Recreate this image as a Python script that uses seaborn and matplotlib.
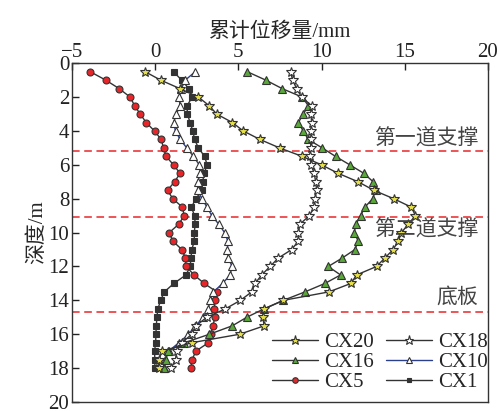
import matplotlib
matplotlib.use("Agg")
import matplotlib.pyplot as plt
import seaborn as sns
import pandas as pd
from matplotlib.lines import Line2D

depth = [0.5, 1.0, 1.5, 2.0, 2.5, 3.0, 3.5, 4.0, 4.5, 5.0, 5.5, 6.0,
         6.5, 7.0, 7.5, 8.0, 8.5, 9.0, 9.5, 10.0, 10.5, 11.0, 11.5, 12.0,
         12.5, 13.0, 13.5, 14.0, 14.5, 15.0, 15.5, 16.0, 16.5, 17.0, 17.5, 18.0]

cx20 = [-0.6, 0.34, 1.5, 2.6, 3.24, 3.7, 4.64, 5.3, 6.3, 7.48, 8.84, 10.0,
        11.0, 12.2, 13.14, 14.34, 15.4, 15.64, 15.2, 14.8, 14.6, 14.3, 13.8, 13.3,
        12.1, 11.76, 10.44, 7.7, 6.56, 6.45, 6.56, 5.08, 2.2, 0.4, 0.24, 0.2]
cx18 = [8.14, 8.26, 8.5, 8.8, 9.4, 9.36, 9.4, 9.36, 9.36, 9.34, 9.3, 9.36,
        9.56, 9.64, 9.7, 9.6, 9.56, 9.26, 8.7, 8.6, 8.6, 8.2, 7.4, 6.9,
        6.4, 6.0, 5.8, 5.12, 4.22, 3.1, 2.45, 2.2, 1.6, 1.3, 1.22, 0.96]
cx16 = [5.54, 6.66, 7.64, 8.84, 9.2, 8.9, 8.6, 8.9, 9.2, 10.04, 10.84, 11.7,
        12.54, 13.1, 13.26, 13.06, 12.6, 12.34, 12.06, 11.96, 12.2, 12.0, 11.24, 10.4,
        11.14, 10.2, 9.0, 7.7, 6.54, 5.5, 4.64, 3.26, 1.76, 0.76, 0.64, 0.5]
cx10 = [2.4, 1.8, 1.57, 1.45, 1.48, 1.28, 1.1, 1.22, 1.5, 1.9, 2.3, 2.65,
        2.72, 2.55, 2.55, 2.8, 3.12, 3.4, 3.82, 4.17, 4.37, 4.34, 4.39, 4.62,
        4.5, 4.05, 3.5, 3.28, 3.2, 2.9, 2.42, 2.0, 1.43, 0.8, 0.6, 0.5]
cx5 = [-3.9, -2.96, -2.16, -1.5, -1.24, -0.9, -0.54, -0.04, 0.36, 0.5, 0.66, 1.1,
       1.5, 1.16, 0.74, 1.06, 1.64, 1.74, 1.42, 0.84, 1.06, 1.6, 1.82, 1.86,
       2.34, 2.94, 3.7, 3.6, 3.55, 3.6, 3.46, 3.35, 3.2, 2.44, 2.22, 2.14]
cx1 = [1.1, 1.6, 2.02, 2.22, 1.92, 1.93, 2.1, 2.26, 2.37, 2.6, 2.97, 3.12,
       2.94, 2.85, 2.8, 2.45, 2.17, 2.37, 2.4, 2.35, 2.35, 2.2, 2.15, 2.1,
       1.85, 1.12, 0.55, 0.33, 0.16, 0.1, 0.07, 0.04, 0.03, -0.04, -0.02, -0.02]

series_names = ["CX20", "CX18", "CX16", "CX10", "CX5", "CX1"]
series_vals = [cx20, cx18, cx16, cx10, cx5, cx1]

support_depths = [0.0, 5.2, 9.1, 14.7]
support_labels = ["第一道支撑", "第二道支撑", "底板"]
support_label_depths = [4.45, 9.8, 13.8]

x_ticks = [-5, 0, 5, 10, 15, 20]
y_ticks = [0, 2, 4, 6, 8, 10, 12, 14, 16, 18, 20]

styles = {
    "CX20": dict(marker="*", mfc="#e6e04a", mec="#333333", ms=7.5, color="#333333"),
    "CX18": dict(marker="*", mfc="white", mec="#333333", ms=7.5, color="#333333"),
    "CX16": dict(marker="^", mfc="#5aa83a", mec="#333333", ms=5.5, color="#333333"),
    "CX10": dict(marker="^", mfc="white", mec="#333333", ms=5.5, color="#2c3f8c"),
    "CX5": dict(marker="o", mfc="#e8262a", mec="#333333", ms=5, color="#333333"),
    "CX1": dict(marker="s", mfc="#333333", mec="#333333", ms=4.5, color="#333333"),
}

rows = []
for name, vals in zip(series_names, series_vals):
    for d, v in zip(depth, vals):
        rows.append({"series": name, "disp": v, "depth": d})
df = pd.DataFrame(rows)

sns.set_style("ticks")
plt.rcParams["font.family"] = ["Liberation Serif", "Noto Sans CJK SC"]

fig = plt.figure(figsize=(5.0, 4.11), dpi=100)
ax = fig.add_axes([0.144, 0.022, 0.832, 0.824])

order = ["CX1", "CX5", "CX10", "CX16", "CX18", "CX20"]
for name in order:
    st = styles[name]
    sub = df[df["series"] == name]
    sns.lineplot(data=sub, x="disp", y="depth", sort=False, estimator=None,
                 ax=ax, color=st["color"], lw=1.0, marker=st["marker"],
                 markerfacecolor=st["mfc"], markeredgecolor=st["mec"],
                 markeredgewidth=0.8, markersize=st["ms"], legend=False)

for d in support_depths:
    ax.axhline(d, color="#e8262a", ls=(0, (5, 3)), lw=1.1, zorder=1)

for lab, d in zip(support_labels, support_label_depths):
    ax.text(19.4, d, lab, ha="right", va="center", fontsize=15,
            color="#444444", family=["Noto Sans CJK SC"])

ax.set_xlim(-5, 20)
ax.set_ylim(20, 0)
ax.set_xticks(x_ticks)
ax.set_xticklabels(["\u22125" if t == -5 else str(t) for t in x_ticks])
ax.set_yticks(y_ticks)
ax.xaxis.tick_top()
ax.xaxis.set_label_position("top")
ax.tick_params(axis="both", direction="in", labelsize=15, length=5, width=1,
               colors="#222222", pad=2)
ax.tick_params(axis="x", pad=1)
ax.set_xlabel("累计位移量/mm", fontsize=15, labelpad=4)
ax.set_ylabel("深度/m", fontsize=15, labelpad=1)
for s in ax.spines.values():
    s.set_linewidth(1.0)
    s.set_color("#333333")

legend_order = ["CX20", "CX16", "CX5", "CX18", "CX10", "CX1"]
handles = []
for name in legend_order:
    st = styles[name]
    handles.append(Line2D([], [], color=st["color"], lw=1.0, marker=st["marker"],
                          markerfacecolor=st["mfc"], markeredgecolor=st["mec"],
                          markeredgewidth=0.8, markersize=st["ms"] - 1))
ax.legend(handles, legend_order, ncol=2, loc="lower left",
          bbox_to_anchor=(0.48, 0.03), frameon=False, fontsize=15,
          handlelength=2.2, handletextpad=0.3, columnspacing=0.6,
          labelspacing=0.02, borderaxespad=0.0, borderpad=0.0)

fig.savefig("out.png", dpi=100)
